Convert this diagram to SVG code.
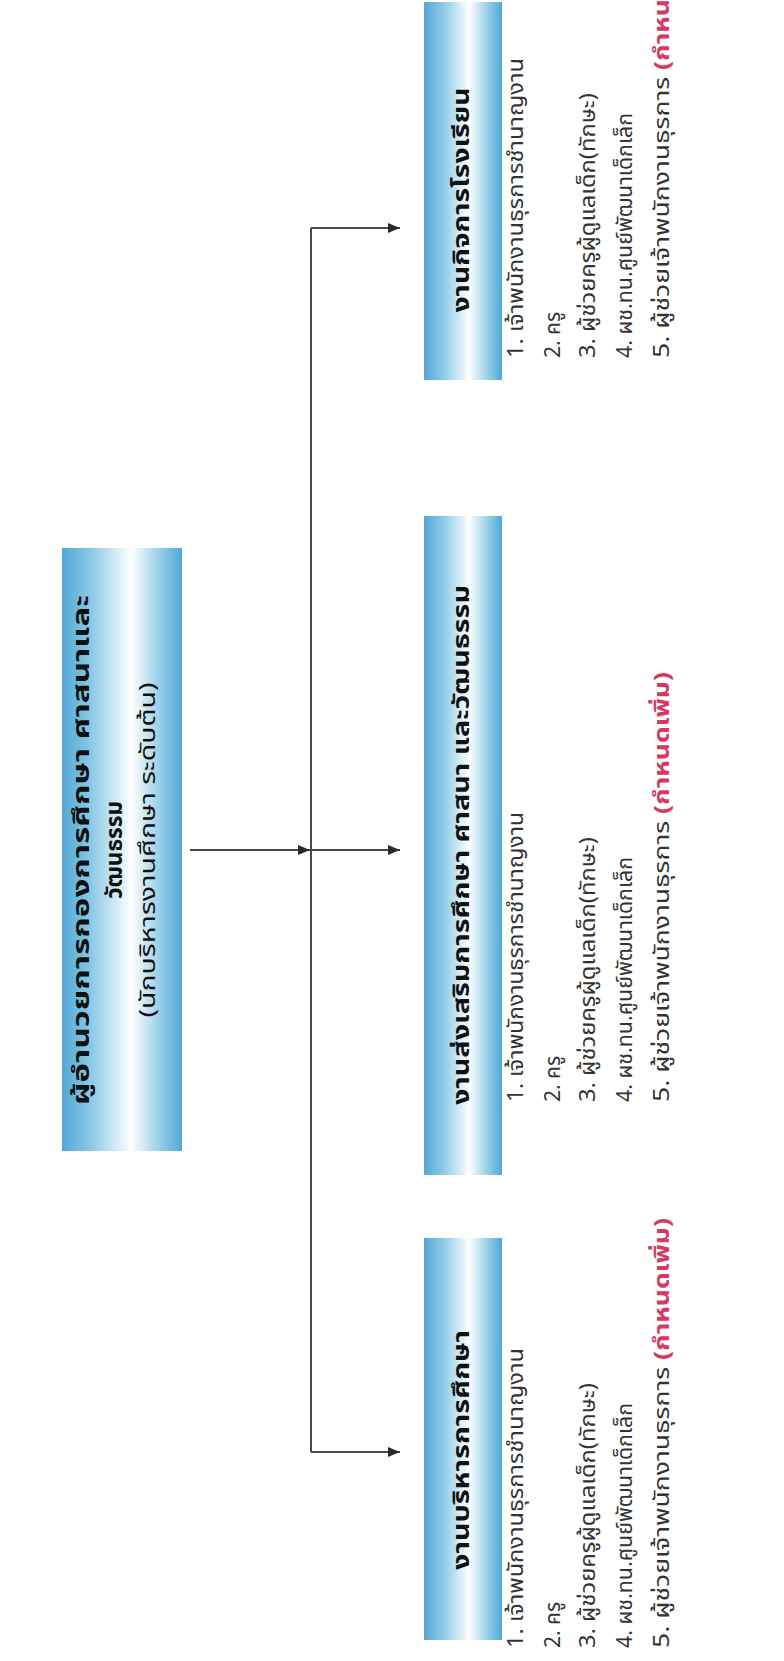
<svg xmlns="http://www.w3.org/2000/svg" width="784" height="1661" viewBox="0 0 784 1661">
<defs>
<linearGradient id="g" x1="0" y1="0" x2="1" y2="0">
<stop offset="0" stop-color="#52a8d5"/>
<stop offset="0.25" stop-color="#8ecae6"/>
<stop offset="0.58" stop-color="#ffffff"/>
<stop offset="0.82" stop-color="#93cee8"/>
<stop offset="1" stop-color="#52a8d5"/>
</linearGradient>
<marker id="ah" viewBox="0 0 12 10" refX="12" refY="5" markerWidth="12" markerHeight="10" markerUnits="userSpaceOnUse" orient="auto">
<path d="M0,0 L12,5 L0,10 z" fill="#2a2a2a"/>
</marker>
<style>
.box{fill:url(#g);}
.t{font-family:"Noto Sans Thai","Noto Sans","Tahoma",sans-serif;font-weight:bold;font-size:23px;fill:#111;text-anchor:middle;dominant-baseline:central;}
.tn{font-family:"Noto Sans Thai","Noto Sans","Tahoma",sans-serif;font-size:22px;fill:#111;text-anchor:middle;dominant-baseline:central;}
.li{font-family:"Noto Sans Thai","Noto Sans","Tahoma",sans-serif;font-size:21px;fill:#333;dominant-baseline:central;}
.red{fill:#d8395e;font-weight:bold;}
.c{stroke:#4a4a4a;stroke-width:2;fill:none;}
</style>
</defs>
<rect width="784" height="1661" fill="#ffffff"/>
<g id="connectors">
<line class="c" x1="311" y1="228" x2="311" y2="1452"/>
<line class="c" x1="190" y1="850" x2="310" y2="850" marker-end="url(#ah)"/>
<line class="c" x1="311" y1="228" x2="400" y2="228" marker-end="url(#ah)"/>
<line class="c" x1="311" y1="850" x2="400" y2="850" marker-end="url(#ah)"/>
<line class="c" x1="311" y1="1452" x2="400" y2="1452" marker-end="url(#ah)"/>
</g>
<g id="head">
<rect class="box" x="62" y="548" width="120" height="603"/>
<text class="t" transform="translate(82,850) rotate(-90)" textLength="510" lengthAdjust="spacingAndGlyphs">ผู้อำนวยการกองการศึกษา ศาสนาและ</text>
<text class="t" transform="translate(115,850) rotate(-90)" textLength="98" lengthAdjust="spacingAndGlyphs">วัฒนธรรม</text>
<text class="tn" transform="translate(148,850) rotate(-90)" textLength="335" lengthAdjust="spacingAndGlyphs">(นักบริหารงานศึกษา ระดับต้น)</text>
</g>
<g id="school">
<rect class="box" x="424" y="2" width="78" height="378"/>
<text class="t" transform="translate(462,200) rotate(-90)" textLength="225" lengthAdjust="spacingAndGlyphs">งานกิจการโรงเรียน</text>
</g>
<g id="promote">
<rect class="box" x="424" y="516" width="78" height="659"/>
<text class="t" transform="translate(462,845) rotate(-90)" textLength="520" lengthAdjust="spacingAndGlyphs">งานส่งเสริมการศึกษา ศาสนา และวัฒนธรรม</text>
</g>
<g id="admin">
<rect class="box" x="424" y="1238" width="78" height="402"/>
<text class="t" transform="translate(462,1450) rotate(-90)" textLength="240" lengthAdjust="spacingAndGlyphs">งานบริหารการศึกษา</text>
</g>
<g id="list-school">
<text class="li" transform="translate(516,358) rotate(-90)" textLength="300" lengthAdjust="spacingAndGlyphs">1.  เจ้าพนักงานธุรการชำนาญงาน</text>
<text class="li" transform="translate(553,358) rotate(-90)">2.  ครู</text>
<text class="li" transform="translate(588,358) rotate(-90)" textLength="265" lengthAdjust="spacingAndGlyphs">3.  ผู้ช่วยครูผู้ดูแลเด็ก(ทักษะ)</text>
<text class="li" transform="translate(625,358) rotate(-90)" textLength="245" lengthAdjust="spacingAndGlyphs">4.  ผช.ทน.ศูนย์พัฒนาเด็กเล็ก</text>
<text class="li" transform="translate(662,358) rotate(-90)" textLength="430" lengthAdjust="spacingAndGlyphs">5.  ผู้ช่วยเจ้าพนักงานธุรการ <tspan class="red">(กำหนดเพิ่ม)</tspan></text>
</g>
<g id="list-promote">
<text class="li" transform="translate(516,1102) rotate(-90)" textLength="290" lengthAdjust="spacingAndGlyphs">1.  เจ้าพนักงานธุรการชำนาญงาน</text>
<text class="li" transform="translate(553,1102) rotate(-90)">2.  ครู</text>
<text class="li" transform="translate(588,1102) rotate(-90)" textLength="265" lengthAdjust="spacingAndGlyphs">3.  ผู้ช่วยครูผู้ดูแลเด็ก(ทักษะ)</text>
<text class="li" transform="translate(625,1102) rotate(-90)" textLength="245" lengthAdjust="spacingAndGlyphs">4.  ผช.ทน.ศูนย์พัฒนาเด็กเล็ก</text>
<text class="li" transform="translate(662,1102) rotate(-90)" textLength="430" lengthAdjust="spacingAndGlyphs">5.  ผู้ช่วยเจ้าพนักงานธุรการ <tspan class="red">(กำหนดเพิ่ม)</tspan></text>
</g>
<g id="list-admin">
<text class="li" transform="translate(516,1648) rotate(-90)" textLength="300" lengthAdjust="spacingAndGlyphs">1.  เจ้าพนักงานธุรการชำนาญงาน</text>
<text class="li" transform="translate(553,1648) rotate(-90)">2.  ครู</text>
<text class="li" transform="translate(588,1648) rotate(-90)" textLength="265" lengthAdjust="spacingAndGlyphs">3.  ผู้ช่วยครูผู้ดูแลเด็ก(ทักษะ)</text>
<text class="li" transform="translate(625,1648) rotate(-90)" textLength="245" lengthAdjust="spacingAndGlyphs">4.  ผช.ทน.ศูนย์พัฒนาเด็กเล็ก</text>
<text class="li" transform="translate(662,1648) rotate(-90)" textLength="430" lengthAdjust="spacingAndGlyphs">5.  ผู้ช่วยเจ้าพนักงานธุรการ <tspan class="red">(กำหนดเพิ่ม)</tspan></text>
</g>
</svg>
